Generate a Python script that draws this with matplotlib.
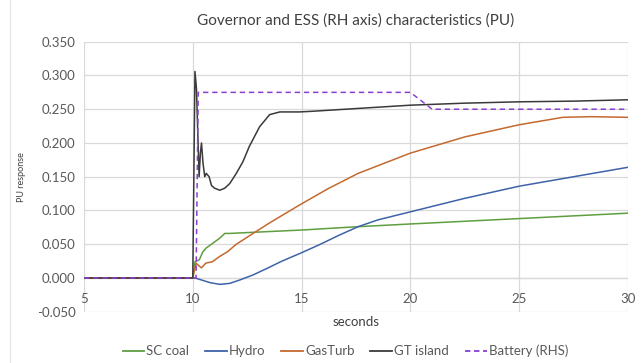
import matplotlib
matplotlib.use("Agg")
import matplotlib.pyplot as plt
from matplotlib.lines import Line2D

plt.rcParams['font.family'] = ['Lato', 'DejaVu Sans']

# ---- data ----
coal_t = [5, 10.0, 10.1, 10.3, 10.45, 10.6, 10.9, 11.24, 11.47, 11.7, 13, 15, 17.6, 20, 22.5, 25, 27.5, 30]
coal_v = [0, 0, 0.024, 0.027, 0.038, 0.044, 0.051, 0.059, 0.066, 0.066, 0.068, 0.071, 0.076, 0.080, 0.084, 0.088, 0.092, 0.096]

hydro_t = [5, 10.1, 10.3, 10.8, 11.24, 11.7, 12.16, 12.77, 13.4, 14.1, 14.9, 15.8, 16.7, 17.6, 18.5, 20, 22.5, 25, 27.5, 30]
hydro_v = [0, 0, -0.002, -0.007, -0.0095, -0.008, -0.003, 0.0045, 0.014, 0.025, 0.036, 0.049, 0.063, 0.076, 0.086, 0.098, 0.118, 0.136, 0.150, 0.164]

gas_t = [5, 10.0, 10.15, 10.25, 10.4, 10.6, 10.9, 11.24, 11.6, 12.0, 12.77, 13.5, 14.9, 16.2, 17.6, 20, 22.5, 25, 27.0, 28.3, 30]
gas_v = [0, 0, 0.022, 0.019, 0.015, 0.022, 0.024, 0.032, 0.039, 0.050, 0.066, 0.081, 0.108, 0.132, 0.155, 0.185, 0.209, 0.227, 0.238, 0.239, 0.238]

gt_t = [5, 10.0, 10.1, 10.17, 10.29, 10.35, 10.40, 10.47, 10.55, 10.62, 10.75, 10.86, 11.0, 11.24, 11.47, 11.7, 12.0, 12.3, 12.6, 13.07, 13.53, 14.0, 14.9, 15.5, 17.5, 20, 22.5, 25, 27.5, 30]
gt_v = [0, 0, 0.306, 0.280, 0.150, 0.185, 0.200, 0.170, 0.150, 0.155, 0.150, 0.137, 0.133, 0.130, 0.133, 0.140, 0.155, 0.172, 0.195, 0.224, 0.242, 0.246, 0.246, 0.247, 0.251, 0.256, 0.259, 0.261, 0.262, 0.264]

batt_t = [5, 10.15, 10.25, 20.0, 21.0, 30]
batt_v = [0, 0, 0.275, 0.275, 0.250, 0.250]

x_ticks = [5, 10, 15, 20, 25, 30]
y_ticks = [-0.05, 0.0, 0.05, 0.1, 0.15, 0.2, 0.25, 0.3, 0.35]

# ---- styles ----
c_coal = '#5f9e3f'
c_hydro = '#3f63a8'
c_gas = '#c4692f'
c_gt = '#3a3a3a'
c_batt = '#8a3fd1'
txt = '#595959'
grid = '#d9d9d9'

fig = plt.figure(figsize=(6.43, 3.63), dpi=100)
ax = fig.add_axes([0.1306, 0.1413, 0.8461, 0.7437])

ax.plot(coal_t, coal_v, color=c_coal, lw=1.1)
ax.plot(hydro_t, hydro_v, color=c_hydro, lw=1.1)
ax.plot(gas_t, gas_v, color=c_gas, lw=1.1)
ax.plot(gt_t, gt_v, color=c_gt, lw=1.1)
ax.plot(batt_t, batt_v, color=c_batt, lw=1.1, ls=(0, (3.5, 2.5)))

ax.set_xlim(5, 30)
ax.set_ylim(-0.05, 0.35)
ax.set_xticks(x_ticks)
ax.set_yticks(y_ticks)
ax.set_xticklabels([str(v) for v in x_ticks])
ax.set_yticklabels([f"{v:.3f}" for v in y_ticks])
ax.grid(True, color=grid, lw=0.9)
ax.set_axisbelow(True)
for s in ax.spines.values():
    s.set_visible(False)
ax.tick_params(length=0, colors=txt, labelsize=9.5, pad=6)
ax.tick_params(axis='x', pad=-13.5)
ax.axhline(0, color=grid, lw=0.9, zorder=0)

ax.set_title("Governor and ESS (RH axis) characteristics (PU)", color='#404040', fontsize=11, pad=12.5)
ax.set_ylabel("PU response", color='#404040', fontsize=6.5, labelpad=8)
ax.set_xlabel("seconds", color='#404040', fontsize=9.5, labelpad=3)

handles = [
    Line2D([], [], color=c_coal, lw=1.3),
    Line2D([], [], color=c_hydro, lw=1.3),
    Line2D([], [], color=c_gas, lw=1.3),
    Line2D([], [], color=c_gt, lw=1.3),
    Line2D([], [], color=c_batt, lw=1.3, ls=(0, (3, 2))),
]
labels = ["SC coal", "Hydro", "GasTurb", "GT island", "Battery (RHS)"]
leg = fig.legend(handles, labels, loc='center', bbox_to_anchor=(0.537, 0.033), ncol=5,
                 frameon=False, fontsize=9.5, handlelength=1.65, handletextpad=0.15,
                 columnspacing=1.2)
for t in leg.get_texts():
    t.set_color(txt)

fig.add_artist(Line2D([10/643, 10/643], [0, 1], transform=fig.transFigure, color='#e6e6e6', lw=0.8))

fig.savefig("out.png", dpi=100)
